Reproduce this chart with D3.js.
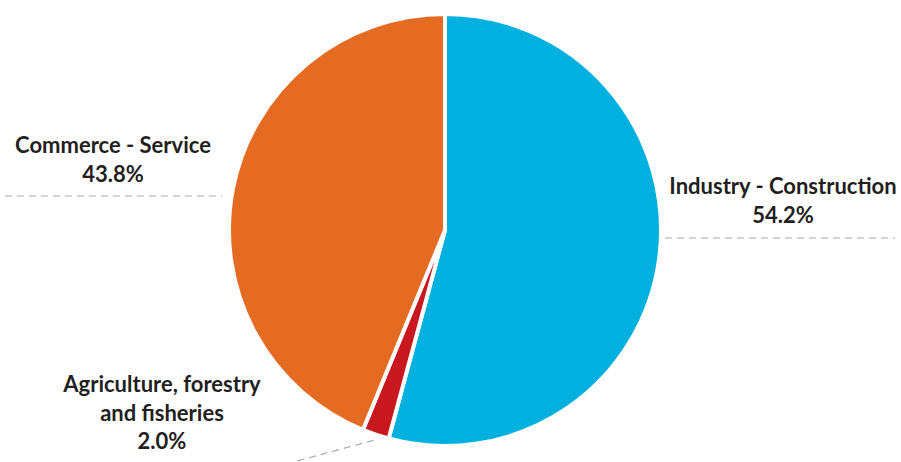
<!DOCTYPE html>
<html>
<head>
<meta charset="utf-8">
<script src="https://cdn.jsdelivr.net/npm/d3@7"></script>
<style>
  html, body { margin: 0; padding: 0; background: #fff; }
  svg { display: block; }
  text { font-family: "Lato", "Open Sans", sans-serif; font-weight: 700; fill: #231f20; }
</style>
</head>
<body>
<svg id="chart" width="901" height="462"></svg>
<script>
// Economic structure by sector (share of total, %)
const categories = ["Industry - Construction", "Agriculture, forestry and fisheries", "Commerce - Service"];
const values = [54.2, 2.0, 43.8];
const colors = ["#00b0de", "#c8171f", "#e66b22"];
const labelLines = [
  ["Industry - Construction", "54.2%"],
  ["Agriculture, forestry", "and fisheries", "2.0%"],
  ["Commerce - Service", "43.8%"]
];

const svg = d3.select("#chart");
const cx = 445, cy = 230, r = 216;

const pie = d3.pie().sort(null).value(d => d)(values);
const arc = d3.arc().innerRadius(0).outerRadius(r);

const g = svg.append("g").attr("transform", `translate(${cx},${cy})`);
g.selectAll("path").data(pie).join("path")
  .attr("d", arc)
  .attr("fill", (d, i) => colors[i])
  .attr("stroke", "#fff")
  .attr("stroke-width", 4)
  .attr("stroke-linejoin", "miter");

// Label placement per slice: text anchor point and leader line
const layout = [
  { x: 783, y: 194, line: [[665, 238], [895, 238]] },
  { x: 162, y: 392, line: null },
  { x: 113, y: 153, line: [[5, 196], [222, 196]] }
];

// Leader for the small slice starts at its outer edge midpoint
const agri = pie[1];
const mid = (agri.startAngle + agri.endAngle) / 2;
const ex = cx + (r + 6) * Math.sin(mid), ey = cy - (r + 6) * Math.cos(mid);
layout[1].line = [[ex, ey], [297, 461]];

layout.forEach((l, i) => {
  svg.append("line")
    .attr("x1", l.line[0][0]).attr("y1", l.line[0][1])
    .attr("x2", l.line[1][0]).attr("y2", l.line[1][1])
    .attr("stroke", "#a7a9ac").attr("stroke-width", 1.2)
    .attr("stroke-dasharray", "7,5");
  const t = svg.append("text").attr("text-anchor", "middle").attr("font-size", 22);
  labelLines[i].forEach((s, k) => {
    t.append("tspan").attr("x", l.x).attr("y", l.y + k * 28.5).text(s);
  });
});
</script>
</body>
</html>
